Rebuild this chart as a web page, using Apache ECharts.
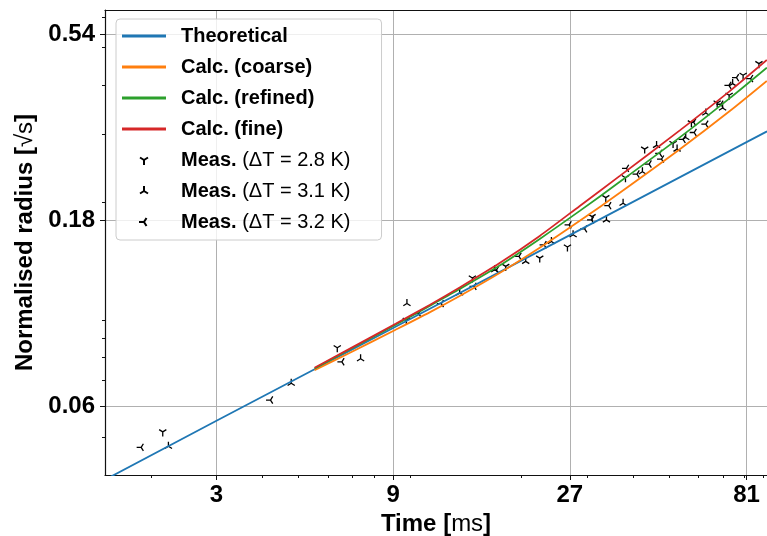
<!DOCTYPE html>
<html><head><meta charset="utf-8">
<script src="https://cdn.jsdelivr.net/npm/echarts@6/dist/echarts.min.js"></script>
<style>html,body{margin:0;padding:0;background:#fff}#c{width:767px;height:536px}</style>
</head><body><div id="c"></div>
<script>
// ---- axis ticks ----
const xTickLabels = [3, 9, 27, 81];
const yTickLabels = [0.06, 0.18, 0.54];
const xMinorTicks = [2, 4, 5, 6, 7, 8, 10, 20, 30, 40, 50, 60, 70, 80, 90];
const yMinorTicks = [0.05, 0.07, 0.08, 0.09, 0.1, 0.2, 0.3, 0.4, 0.5, 0.6];
const xLimits = [1.5, 92];
const yLimits = [0.04, 0.625];

// ---- theoretical line ----
const theoryTime   = [1.5, 3, 9, 27, 81, 92];
const theoryRadius = [0.0389, 0.0551, 0.0954, 0.1652, 0.2862, 0.305];

// ---- calculated curves ----
const calcTime      = [5.52, 6.86, 9.14, 11.29, 13.61, 17.45, 22.39, 28.72, 36.84, 53.5, 73.0, 91.9];
const coarseRadius  = [0.0743, 0.0823, 0.0944, 0.1046, 0.1152, 0.1320, 0.1532, 0.1797, 0.2121, 0.2743, 0.3439, 0.4109];
const refinedRadius = [0.0751, 0.0840, 0.0972, 0.1087, 0.1201, 0.1380, 0.1615, 0.1906, 0.2263, 0.2944, 0.3713, 0.4446];
const fineRadius    = [0.0754, 0.0843, 0.0978, 0.1093, 0.1212, 0.1400, 0.1644, 0.1963, 0.2344, 0.3068, 0.3870, 0.4650];

// ---- measurements ----
const meas28Time   = [2.148, 6.358, 9.768, 14.73, 18.12, 22.39, 26.6, 31.0, 33.76, 38.16, 43.0, 51.3, 57.5, 67.5, 72.7, 79.3, 87.5];
const meas28Radius = [0.0516, 0.0849, 0.0998, 0.1282, 0.1373, 0.1442, 0.1539, 0.1843, 0.2061, 0.2319, 0.2746, 0.2840, 0.3207, 0.3608, 0.3776, 0.4248, 0.4551];
const meas31Time   = [2.225, 4.775, 7.35, 9.805, 13.61, 16.92, 20.52, 24.08, 27.55, 33.9, 37.6, 42.4, 46.3, 52.6, 55.5, 62.9, 69.8, 74.3];
const meas31Radius = [0.0474, 0.0688, 0.0795, 0.1102, 0.1174, 0.1346, 0.1414, 0.1590, 0.1655, 0.1807, 0.1994, 0.2402, 0.2807, 0.2746, 0.2942, 0.3401, 0.3503, 0.4045];
const meas32Time   = [1.878, 4.198, 6.543, 10.55, 12.14, 14.88, 17.1, 19.68, 23.0, 26.87, 29.6, 30.9, 34.4, 38.4, 41.0, 44.2, 47.2, 47.75, 54.6, 58.3, 58.5, 62.9, 69.06, 72.6, 76.1, 83.1];
const meas32Radius = [0.0471, 0.0623, 0.0781, 0.1039, 0.1102, 0.1220, 0.1343, 0.1456, 0.1560, 0.1755, 0.1714, 0.1807, 0.1966, 0.2451, 0.2370, 0.2514, 0.2678, 0.2589, 0.2908, 0.3220, 0.3030, 0.3182, 0.3580, 0.4004, 0.4190, 0.4166];

const L3 = v => Math.log(v) / Math.log(3);
const pts = (xs, ys) => xs.map((x, i) => [L3(x), L3(ys[i])]);

const FONT = "'Liberation Sans', Arial, Helvetica, sans-serif";
const TRI_DOWN = 'path://M-10,-10M10,10M0,0L0,10M0,0L8,-5M0,0L-8,-5';
const TRI_UP   = 'path://M-10,-10M10,10M0,0L0,-10M0,0L8,5M0,0L-8,5';
const TRI_LEFT = 'path://M-10,-10M10,10M0,0L-10,0M0,0L5,-8M0,0L5,8';
const LINE_ICON = 'path://M0,0H44V3H0Z';

const C_BLUE = '#1f77b4', C_ORANGE = '#ff7f0e', C_GREEN = '#2ca02c', C_RED = '#d62728';

function lineSeries(name, xs, ys, color, smooth) {
  return { name, type: 'line', data: pts(xs, ys), showSymbol: false, symbol: 'none', smooth: smooth,
    lineStyle: { color, width: 1.8 }, itemStyle: { color }, clip: true, silent: true, animation: false };
}
function scatterSeries(name, xs, ys, sym) {
  return { name, type: 'scatter', data: pts(xs, ys), symbol: sym, symbolSize: 9, symbolKeepAspect: true,
    itemStyle: { color: 'rgba(0,0,0,0)', borderColor: '#000', borderWidth: 1.3, opacity: 1 },
    clip: true, silent: true, animation: false };
}

const xMin = L3(xLimits[0]), xMax = L3(xLimits[1]);
const yMin = L3(yLimits[0]), yMax = L3(yLimits[1]);
const axisLineStyle = { color: '#111', width: 1.2 };
const gridLine = { show: true, lineStyle: { color: '#b0b0b0', width: 1 } };

const chart = echarts.init(document.getElementById('c'), null, { renderer: 'canvas' });
chart.setOption({
  animation: false,
  backgroundColor: '#fff',
  grid: { left: 105, right: 0, top: 10, bottom: 61, containLabel: false, outerBoundsMode: 'none' },
  legend: {
    orient: 'vertical', left: 116, top: 19,
    padding: [5, 31, 6, 6], itemGap: 7, itemWidth: 44, itemHeight: 10,
    backgroundColor: 'rgba(255,255,255,0.8)', borderColor: '#cccccc', borderWidth: 1, borderRadius: 4,
    selectedMode: false,
    data: [
      { name: 'Theoretical', icon: LINE_ICON },
      { name: 'Calc. (coarse)', icon: LINE_ICON },
      { name: 'Calc. (refined)', icon: LINE_ICON },
      { name: 'Calc. (fine)', icon: LINE_ICON },
      { name: 'Meas. (ΔT = 2.8 K)', icon: TRI_DOWN },
      { name: 'Meas. (ΔT = 3.1 K)', icon: TRI_UP },
      { name: 'Meas. (ΔT = 3.2 K)', icon: TRI_LEFT }
    ],
    formatter: function (name) {
      if (name.indexOf('Meas.') === 0) return '{b|Meas. }{n|' + name.slice(6) + '}';
      return '{b|' + name + '}';
    },
    textStyle: {
      padding: [0, 0, 0, 10], fontFamily: FONT, fontSize: 20, lineHeight: 24, color: '#000',
      rich: {
        b: { fontFamily: FONT, fontSize: 20, fontWeight: 'bold', lineHeight: 24, color: '#000' },
        n: { fontFamily: FONT, fontSize: 20, fontWeight: 'normal', lineHeight: 24, color: '#000' }
      }
    }
  },
  xAxis: [
    {
      type: 'value', min: xMin, max: xMax, position: 'bottom',
      name: '{b|Time [}{n|ms}{b|]}', nameLocation: 'middle', nameGap: 32,
      nameTextStyle: { rich: {
        b: { fontFamily: FONT, fontSize: 24, fontWeight: 'bold', color: '#000' },
        n: { fontFamily: FONT, fontSize: 24, fontWeight: 'normal', color: '#000' } } },
      axisLine: { show: true, onZero: false, lineStyle: axisLineStyle },
      axisTick: { show: true, length: 5, customValues: xTickLabels.map(L3), lineStyle: { color: '#111', width: 1 } },
      axisLabel: { show: true, customValues: xTickLabels.map(L3), margin: 8,
        formatter: v => String(Math.round(Math.pow(3, v))),
        fontFamily: FONT, fontSize: 24, fontWeight: 'bold', color: '#000' },
      splitLine: gridLine, minorTick: { show: false }, minorSplitLine: { show: false }
    },
    {
      type: 'value', min: xMin, max: xMax, position: 'bottom',
      axisLine: { show: false, onZero: false },
      axisTick: { show: true, length: 3, customValues: xMinorTicks.map(L3), lineStyle: { color: '#111', width: 1 } },
      axisLabel: { show: false }, splitLine: { show: false }
    },
    {
      type: 'value', min: xMin, max: xMax, position: 'top',
      axisLine: { show: true, onZero: false, lineStyle: axisLineStyle },
      axisTick: { show: false }, axisLabel: { show: false }, splitLine: { show: false }
    }
  ],
  yAxis: [
    {
      type: 'value', min: yMin, max: yMax, position: 'left',
      name: '{b|Normalised radius [}{n|√s}{b|]}', nameLocation: 'middle', nameGap: 62,
      nameTextStyle: { rich: {
        b: { fontFamily: FONT, fontSize: 24, fontWeight: 'bold', color: '#000' },
        n: { fontFamily: FONT, fontSize: 24, fontWeight: 'normal', color: '#000' } } },
      axisLine: { show: true, onZero: false, lineStyle: axisLineStyle },
      axisTick: { show: true, length: 5, customValues: yTickLabels.map(L3), lineStyle: { color: '#111', width: 1 } },
      axisLabel: { show: true, customValues: yTickLabels.map(L3), margin: 10,
        formatter: v => Math.pow(3, v).toFixed(2),
        fontFamily: FONT, fontSize: 24, fontWeight: 'bold', color: '#000' },
      splitLine: gridLine
    },
    {
      type: 'value', min: yMin, max: yMax, position: 'left',
      axisLine: { show: false, onZero: false },
      axisTick: { show: true, length: 3, customValues: yMinorTicks.map(L3), lineStyle: { color: '#111', width: 1 } },
      axisLabel: { show: false }, splitLine: { show: false }
    }
  ],
  series: [
    lineSeries('Theoretical', theoryTime, theoryRadius, C_BLUE, false),
    lineSeries('Calc. (coarse)', calcTime, coarseRadius, C_ORANGE, 0.25),
    lineSeries('Calc. (refined)', calcTime, refinedRadius, C_GREEN, 0.25),
    lineSeries('Calc. (fine)', calcTime, fineRadius, C_RED, 0.25),
    scatterSeries('Meas. (ΔT = 2.8 K)', meas28Time, meas28Radius, TRI_DOWN),
    scatterSeries('Meas. (ΔT = 3.1 K)', meas31Time, meas31Radius, TRI_UP),
    scatterSeries('Meas. (ΔT = 3.2 K)', meas32Time, meas32Radius, TRI_LEFT)
  ]
});
</script></body></html>
